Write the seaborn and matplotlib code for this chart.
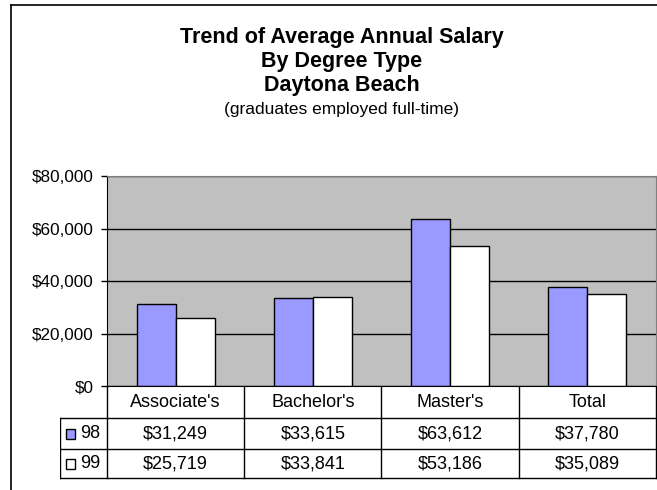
import pandas as pd
import matplotlib.pyplot as plt
import seaborn as sns
from matplotlib.patches import Rectangle
from matplotlib.lines import Line2D
from matplotlib.ticker import FuncFormatter

# chart data
degrees = ["Associate's", "Bachelor's", "Master's", "Total"]
years = ["98", "99"]
salary_98 = [31249, 33615, 63612, 37780]
salary_99 = [25719, 33841, 53186, 35089]
y_ticks = [0, 20000, 40000, 60000, 80000]
bar_colors = ["#9999FF", "#FFFFFF"]

title_lines = ["Trend of Average Annual Salary", "By Degree Type", "Daytona Beach"]
subtitle = "(graduates employed full-time)"

W, H = 657, 490


# Turn a pixel box (left, top, right, bottom) into figure coords
def px_box(x0, y0, x1, y1):
    return [x0 / W, 1 - y1 / H, (x1 - x0) / W, (y1 - y0) / H]


def money(v, pos=None):
    return f"${v:,.0f}"


df = pd.DataFrame({
    "Degree": degrees * 2,
    "Year": [years[0]] * len(degrees) + [years[1]] * len(degrees),
    "Salary": salary_98 + salary_99,
})

plt.rcParams["font.family"] = ["Liberation Sans", "DejaVu Sans"]

fig = plt.figure(figsize=(W / 100, H / 100), dpi=100)
fig.patch.set_facecolor("white")

# outer chart frame (left and top edges visible)
fig.add_artist(Line2D([11 / W, 11 / W], [0, 1 - 5 / H], transform=fig.transFigure, color="black", lw=1.2))
fig.add_artist(Line2D([11 / W, 1], [1 - 5 / H, 1 - 5 / H], transform=fig.transFigure, color="black", lw=1.2))

# titles
for i, line in enumerate(title_lines):
    fig.text(342 / W, 1 - (37 + 24.5 * i) / H, line, ha="center", va="center",
             fontsize=15.5, fontweight="bold")
fig.text(342 / W, 1 - 109.5 / H, subtitle, ha="center", va="center", fontsize=12.5)

# bar plot area
ax = fig.add_axes(px_box(107, 176, 656, 386))
sns.barplot(data=df, x="Degree", y="Salary", hue="Year", order=degrees, hue_order=years,
            palette=dict(zip(years, bar_colors)), saturation=1, width=0.57,
            edgecolor="black", linewidth=1, errorbar=None, legend=False, ax=ax)
ax.set_facecolor("#C0C0C0")
ax.set_xlim(-0.5, len(degrees) - 0.5)
ax.set_ylim(y_ticks[0], y_ticks[-1])
ax.set_yticks(y_ticks)
ax.yaxis.set_major_formatter(FuncFormatter(money))
ax.yaxis.grid(True, color="black", lw=1)
ax.set_axisbelow(True)
ax.set_xticks([])
ax.set_xlabel("")
ax.set_ylabel("")
ax.tick_params(axis="y", direction="out", length=4.5, width=1, labelsize=12.3, pad=5)
for side in ["left", "bottom"]:
    ax.spines[side].set_color("black")
ax.spines["top"].set_color("#808080")
ax.spines["right"].set_color("#808080")

# data table below the plot
leg_w = 47 / 137.25
tab = fig.add_axes(px_box(60, 386, 657, 480))
tab.set_xlim(-0.5 - leg_w, len(degrees) - 0.5 + 1 / 137.25)
tab.set_ylim(480, 386)
tab.axis("off")

row_y = [402, 433.5, 463.5]
rows_top = [418, 449, 478]
for b in range(len(degrees) + 1):
    tab.plot([b - 0.5, b - 0.5], [386, 478], color="black", lw=1)
tab.plot([-0.5 - leg_w, -0.5 - leg_w], [418, 478], color="black", lw=1)
for y in rows_top:
    tab.plot([-0.5 - leg_w, len(degrees) - 0.5], [y, y], color="black", lw=1)

for i, name in enumerate(degrees):
    tab.text(i, row_y[0], name, ha="center", va="center", fontsize=13)
    tab.text(i, row_y[1], money(salary_98[i]), ha="center", va="center", fontsize=13)
    tab.text(i, row_y[2], money(salary_99[i]), ha="center", va="center", fontsize=13)

for j, (yr, col) in enumerate(zip(years, bar_colors)):
    yc = row_y[j + 1]
    x0 = (66 - 107) / 137.25 - 0.5
    tab.add_patch(Rectangle((x0, yc - 5), 9 / 137.25, 10, facecolor=col, edgecolor="black", lw=1))
    tab.text((80 - 107) / 137.25 - 0.5, yc, yr, ha="left", va="center", fontsize=13)

fig.savefig("out.png", dpi=100)
